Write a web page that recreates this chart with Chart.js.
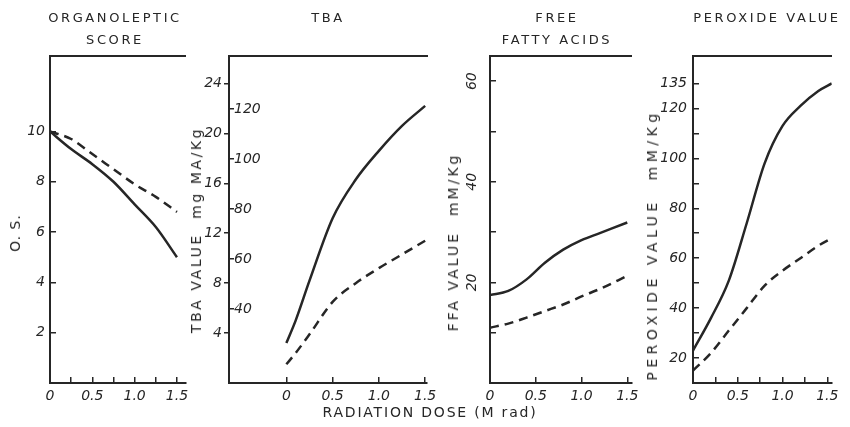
<!DOCTYPE html>
<html>
<head>
<meta charset="utf-8">
<script src="https://cdn.jsdelivr.net/npm/chart.js@4.4.1/dist/chart.umd.min.js"></script>
<style>
  html, body { margin: 0; padding: 0; background: #fff; }
  #wrap { position: relative; width: 850px; height: 427px; overflow: hidden; font-family: "DejaVu Sans", sans-serif; color: #262626; }
  canvas { position: absolute; top: 0; }
  .lbl { position: absolute; transform: translate(-50%, -50%); white-space: nowrap; font-size: 13px; letter-spacing: 2.6px; }
  .ylbl { position: absolute; transform: translate(-50%, -50%) rotate(-90deg); white-space: nowrap; font-size: 14px; letter-spacing: 2.5px; }
</style>
</head>
<body>
<div id="wrap">
  <canvas id="os" width="200" height="427" style="left:0px"></canvas>
  <canvas id="tba" width="266" height="427" style="left:184px"></canvas>
  <canvas id="ffa" width="210" height="427" style="left:440px"></canvas>
  <canvas id="pv" width="210" height="427" style="left:640px"></canvas>

  <div class="lbl" style="left:115px;top:17px">ORGANOLEPTIC</div>
  <div class="lbl" style="left:115px;top:39px">SCORE</div>
  <div class="lbl" style="left:328px;top:17px">TBA</div>
  <div class="lbl" style="left:557px;top:17px">FREE</div>
  <div class="lbl" style="left:557px;top:39px">FATTY ACIDS</div>
  <div class="lbl" style="left:767px;top:17px">PEROXIDE VALUE</div>
  <div class="lbl" style="left:430px;top:412px;font-size:14px;letter-spacing:1.8px">RADIATION DOSE (M rad)</div>

  <div class="ylbl" style="left:15px;top:233px;letter-spacing:1px">O. S.</div>
  <div class="ylbl" style="left:196px;top:230px;letter-spacing:2.6px">TBA VALUE &nbsp;mg MA/Kg</div>
  <div class="ylbl" style="left:453px;top:242px;letter-spacing:3px">FFA VALUE &nbsp;mM/Kg</div>
  <div class="ylbl" style="left:652px;top:245px;letter-spacing:4.5px">PEROXIDE VALUE &nbsp;mM/Kg</div>
</div>

<script>
// dose axis (Mrad)
const doseLabelValues = [0, 0.5, 1, 1.5];
const doseLabelText = ["0", "0.5", "1.0", "1.5"];
const doseTicksFine = [0, 0.25, 0.5, 0.75, 1, 1.25, 1.5];
const doseTicksCoarse = [0, 0.5, 1, 1.5];

// organoleptic score
const osDose = [0, 0.25, 0.5, 0.75, 1.0, 1.25, 1.5];
const osSolid = [10, 9.3, 8.7, 8.0, 7.1, 6.2, 5.0];
const osDashed = [10, 9.7, 9.1, 8.5, 7.9, 7.4, 6.8];
const osTicks = [2, 4, 6, 8, 10];
const osTickLabels = ["2", "4", "6", "8", "10"];

// TBA value
const tbaDose = [0, 0.1, 0.25, 0.5, 0.75, 1.0, 1.25, 1.5];
const tbaSolid = [3.2, 5.0, 8.2, 13.2, 16.3, 18.6, 20.6, 22.2];
const tbaDashed = [1.5, 2.4, 3.9, 6.5, 8.0, 9.2, 10.3, 11.4];
const tbaTicks = [4, 8, 12, 16, 20, 24];
const tbaTickLabels = ["4", "8", "12", "16", "20", "24"];
const tbaInnerTicks = [40, 60, 80, 100, 120];
const tbaInnerLabels = ["40", "60", "80", "100", "120"];

// free fatty acids
const ffaDose = [0, 0.2, 0.4, 0.6, 0.8, 1.0, 1.2, 1.5];
const ffaSolid = [17.5, 18.3, 20.6, 23.9, 26.5, 28.4, 29.8, 31.9];
const ffaDashed = [11, 11.8, 13.0, 14.3, 15.6, 17.2, 18.7, 21.3];
const ffaTicks = [10, 20, 30, 40, 50, 60];
const ffaTickLabels = ["", "20", "", "40", "", "60"];

// peroxide value
const pvDose = [0, 0.2, 0.4, 0.6, 0.8, 1.0, 1.2, 1.4, 1.55];
const pvSolid = [23, 36, 51, 74, 98, 113, 121, 127, 130];
const pvDashed = [15, 22, 31, 40, 49, 55, 60, 65, 68];
const pvTicks = [20, 30, 40, 50, 60, 70, 80, 90, 100, 110, 120, 130];
const pvTickLabels = ["20", "", "40", "", "60", "", "80", "", "100", "", "120", "135"];

const ink = "#262626";
const tickFont = { family: "DejaVu Sans", size: 14, style: "italic" };

function pts(xs, ys) {
  return xs.map((x, i) => ({ x: x, y: ys[i] }));
}

function setTicks(values) {
  return s => { s.ticks = values.map(v => ({ value: v })); };
}

function labelFor(values, texts) {
  return v => {
    const i = values.findIndex(t => Math.abs(t - v) < 1e-6);
    return i < 0 ? "" : texts[i];
  };
}

function lines(xs, solid, dashed) {
  const common = { borderColor: ink, pointRadius: 0, fill: false, cubicInterpolationMode: "monotone", borderWidth: 2.5 };
  return [
    Object.assign({ label: "solid", data: pts(xs, solid) }, common),
    Object.assign({ label: "dashed", data: pts(xs, dashed), borderDash: [9, 6] }, common)
  ];
}

function makePanel(id, p) {
  const scales = {
    x: {
      type: "linear", min: p.xMin, max: p.xMax,
      afterBuildTicks: setTicks(p.xTicks),
      afterFit: s => { s.height = 44; },
      grid: { drawOnChartArea: false, tickLength: -6, color: ink, lineWidth: 1.5 },
      border: { color: ink, width: 2 },
      ticks: { padding: 11, color: ink, font: tickFont, maxRotation: 0, autoSkip: false,
               callback: labelFor(doseLabelValues, doseLabelText) }
    },
    top: {
      type: "linear", position: "top",
      afterFit: s => { s.height = 0; },
      grid: { display: false },
      ticks: { display: false },
      border: { color: ink, width: 2 }
    },
    y: Object.assign({
      type: "linear", position: "left", weight: 1, min: p.yMin, max: p.yMax,
      afterBuildTicks: setTicks(p.yTicks),
      afterFit: s => { s.width = p.axisWidth; },
      grid: { drawOnChartArea: false, tickLength: -6, color: ink, lineWidth: 1.5 },
      border: { color: ink, width: 2 },
      ticks: { padding: 11, color: ink, font: tickFont, autoSkip: false,
               callback: labelFor(p.yTicks, p.yLabels) }
    }, p.yExtra || {})
  };
  if (p.y2) scales.y2 = p.y2;

  new Chart(document.getElementById(id), {
    type: "line",
    data: { datasets: p.datasets },
    options: {
      responsive: false,
      animation: false,
      layout: { padding: { top: 56, right: p.padRight, left: 0, bottom: 0 } },
      plugins: { legend: { display: false }, tooltip: { enabled: false } },
      scales: scales
    }
  });
}

makePanel("os", {
  xMin: 0, xMax: 1.6, xTicks: doseTicksFine,
  yMin: 0, yMax: 13, yTicks: osTicks, yLabels: osTickLabels,
  axisWidth: 50, padRight: 13,
  datasets: lines(osDose, osSolid, osDashed)
});

makePanel("tba", {
  xMin: -0.62, xMax: 1.52, xTicks: doseTicksCoarse,
  yMin: 0, yMax: 26.2, yTicks: tbaTicks, yLabels: tbaTickLabels,
  axisWidth: 45, padRight: 23,
  yExtra: {
    grid: { drawOnChartArea: false, tickLength: 5, color: ink, lineWidth: 1.5 },
    ticks: { padding: 2, color: ink, font: tickFont, autoSkip: false,
             callback: labelFor(tbaTicks, tbaTickLabels) }
  },
  y2: {
    type: "linear", position: "left", weight: 0, min: 10.4, max: 141.2,
    afterBuildTicks: setTicks(tbaInnerTicks),
    afterFit: s => { s.width = 0; },
    grid: { drawOnChartArea: false, tickLength: -5, color: ink, lineWidth: 1.5 },
    border: { color: ink, width: 2 },
    ticks: { mirror: true, padding: 5, color: ink, font: tickFont, autoSkip: false,
             callback: labelFor(tbaInnerTicks, tbaInnerLabels) }
  },
  datasets: lines(tbaDose, tbaSolid, tbaDashed)
});

makePanel("ffa", {
  xMin: 0, xMax: 1.55, xTicks: doseTicksCoarse,
  yMin: 0, yMax: 65, yTicks: ffaTicks, yLabels: ffaTickLabels,
  axisWidth: 50, padRight: 8,
  yExtra: {
    ticks: { padding: 15, color: ink, font: tickFont, autoSkip: false, minRotation: 90, maxRotation: 90,
             crossAlign: "center", callback: labelFor(ffaTicks, ffaTickLabels) }
  },
  datasets: lines(ffaDose, ffaSolid, ffaDashed)
});

makePanel("pv", {
  xMin: 0, xMax: 1.55, xTicks: doseTicksFine,
  yMin: 10, yMax: 141, yTicks: pvTicks, yLabels: pvTickLabels,
  axisWidth: 53, padRight: 10,
  yExtra: {
    ticks: { padding: 12, color: ink, font: tickFont, autoSkip: false,
             callback: labelFor(pvTicks, pvTickLabels) }
  },
  datasets: lines(pvDose, pvSolid, pvDashed)
});
</script>
</body>
</html>
